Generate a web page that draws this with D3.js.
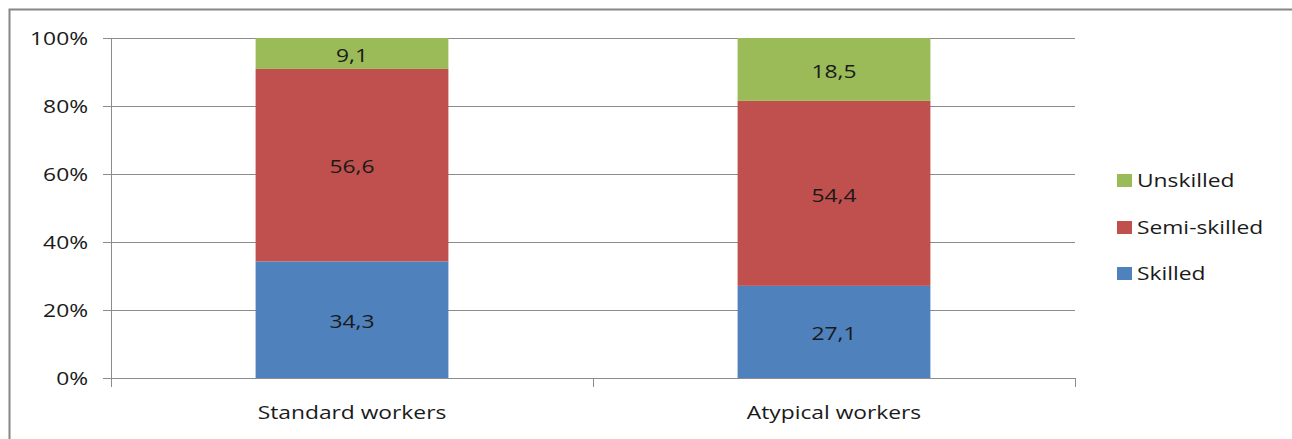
<!DOCTYPE html>
<html>
<head>
<meta charset="utf-8">
<script src="https://cdn.jsdelivr.net/npm/d3@7"></script>
<style>
  html, body { margin: 0; padding: 0; background: #fff; }
  svg { display: block; }
  text { font-family: "Open Sans", "Noto Sans", sans-serif; fill: #1a1a1a; }
</style>
</head>
<body>
<svg id="chart" width="1292" height="439"></svg>
<script>
// Share of workers by skill level, per worker type (percent)
const categories = ["Standard workers", "Atypical workers"];
const seriesNames = ["Skilled", "Semi-skilled", "Unskilled"];
const skilled = [34.3, 27.1];
const semiSkilled = [56.6, 54.4];
const unskilled = [9.1, 18.5];
const yTicks = [0, 20, 40, 60, 80, 100];
const colors = ["#4F81BD", "#C0504D", "#9BBB59"];

const svg = d3.select("#chart");
const W = 1292, H = 439;
const plot = { left: 111, right: 1075, top: 38, bottom: 378 };
const fontSize = 19, sx = 1.2; // horizontally widened glyphs

// Outer chart frame
svg.append("rect")
  .attr("x", 9.5).attr("y", 9.5)
  .attr("width", W + 20).attr("height", H + 20)
  .attr("fill", "#fff")
  .attr("stroke", "#868686").attr("stroke-width", 2);

const rows = categories.map((c, i) => ({
  category: c,
  Skilled: skilled[i],
  "Semi-skilled": semiSkilled[i],
  Unskilled: unskilled[i]
}));
const stacked = d3.stack().keys(seriesNames)(rows);

const x = d3.scaleBand().domain(categories)
  .range([plot.left, plot.right]).paddingInner(0.6).paddingOuter(0.3);
const y = d3.scaleLinear().domain([0, 100]).range([plot.bottom, plot.top]);

// Horizontal gridlines with tick marks
const yAxis = d3.axisLeft(y).tickValues(yTicks)
  .tickSize(-(plot.right - plot.left)).tickFormat(() => "");
const gy = svg.append("g").attr("transform", `translate(${plot.left},0)`).call(yAxis);
gy.select(".domain").remove();
gy.selectAll(".tick line").attr("stroke", "#8c8c8c").attr("stroke-width", 1)
  .attr("x1", -8);

function label(g, px, py, txt, anchor) {
  g.append("g").attr("transform", `translate(${px},${py}) scale(${sx},1)`)
    .append("text")
    .attr("text-anchor", anchor)
    .attr("dominant-baseline", "central")
    .style("font-size", fontSize + "px")
    .text(txt);
}

// Bars
const bars = svg.append("g");
stacked.forEach((s, si) => {
  bars.append("g").selectAll("rect").data(s).join("rect")
    .attr("x", d => x(d.data.category))
    .attr("width", x.bandwidth())
    .attr("y", d => y(d[1]))
    .attr("height", d => y(d[0]) - y(d[1]))
    .attr("fill", colors[si]);
});

// Axis lines
svg.append("line").attr("x1", plot.left + 0.5).attr("x2", plot.left + 0.5)
  .attr("y1", plot.top).attr("y2", plot.bottom + 9)
  .attr("stroke", "#8c8c8c");
svg.append("line").attr("x1", plot.left).attr("x2", plot.right)
  .attr("y1", plot.bottom + 0.5).attr("y2", plot.bottom + 0.5)
  .attr("stroke", "#8c8c8c");
const step = (plot.right - plot.left) / categories.length;
d3.range(categories.length + 1).forEach(i => {
  const px = Math.round(plot.left + i * step) + 0.5;
  svg.append("line").attr("x1", px).attr("x2", px)
    .attr("y1", plot.bottom).attr("y2", plot.bottom + 9)
    .attr("stroke", "#8c8c8c");
});

// Text layer on top of the bars
const labels = svg.append("g");
yTicks.forEach(t => label(labels, 88, y(t), t + "%", "end"));

const fmt = v => String(Math.round(v * 10) / 10).replace(".", ",");
stacked.forEach(s => {
  s.forEach(d => label(labels, x(d.data.category) + x.bandwidth() / 2,
    (y(d[0]) + y(d[1])) / 2 + 1, fmt(d[1] - d[0]), "middle"));
});
categories.forEach(c => label(labels, x(c) + x.bandwidth() / 2, 412, c, "middle"));

// Legend (top entry is the top of the stack)
const legendY = [180, 227, 273];
seriesNames.slice().reverse().forEach((n, i) => {
  const ci = seriesNames.length - 1 - i;
  svg.append("rect").attr("x", 1117).attr("y", legendY[i] - 6)
    .attr("width", 15).attr("height", 13).attr("fill", colors[ci]);
  label(labels, 1137, legendY[i], n, "start");
});
</script>
</body>
</html>
